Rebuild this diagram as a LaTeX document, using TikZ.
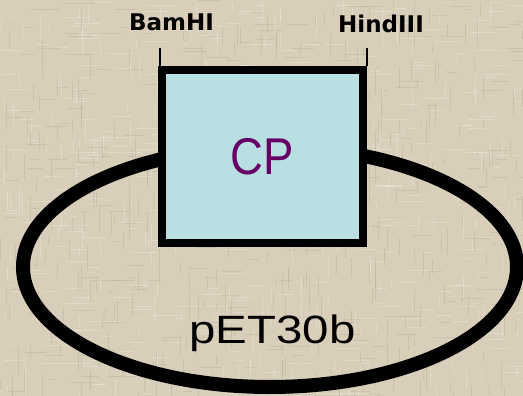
\documentclass[tikz,border=0pt]{standalone}
\usepackage{fontspec}
\setmainfont{Liberation Sans}
\newfontfamily\djv{DejaVu Sans}
\usetikzlibrary{shapes.geometric}
\definecolor{bg}{RGB}{216,206,186}
\definecolor{bglight}{RGB}{236,229,213}
\definecolor{bgdark}{RGB}{192,181,160}
\definecolor{cpfill}{RGB}{184,223,226}
\definecolor{cptext}{RGB}{102,0,102}
\tikzset{
  plasmidring/.style={ellipse, draw=black, line width=14pt, minimum width=494pt, minimum height=240pt, inner sep=0pt},
  insertbox/.style={draw=black, line width=8pt, fill=cpfill, minimum width=201.5pt, minimum height=173pt, inner sep=0pt},
  sitelabel/.style={anchor=base, inner sep=0pt, font=\djv\bfseries\fontsize{23}{24}\selectfont},
  siteline/.style={line width=1.2pt, black},
  weave/.style={line width=1pt, opacity=0.55}
}
\begin{document}
\begin{tikzpicture}[x=1pt,y=-1pt]
\fill[bg] (0,0) rectangle (523,396);
\useasboundingbox (0,0) rectangle (523,396);
\begin{scope}
\clip (0,0) rectangle (523,396);
\pgfmathsetseed{7}
\foreach \i in {1,...,350}{
  \pgfmathsetmacro{\xx}{rnd*523}
  \pgfmathsetmacro{\yy}{round(rnd*132)*3}
  \pgfmathsetmacro{\ll}{6+rnd*22}
  \draw[weave, bglight] (\xx,\yy) -- ++(\ll,0);
}
\foreach \i in {1,...,350}{
  \pgfmathsetmacro{\xx}{round(rnd*174)*3}
  \pgfmathsetmacro{\yy}{rnd*396}
  \pgfmathsetmacro{\ll}{6+rnd*22}
  \draw[weave, bgdark] (\xx,\yy) -- ++(0,\ll);
}
\foreach \i in {1,...,250}{
  \pgfmathsetmacro{\xx}{rnd*523}
  \pgfmathsetmacro{\yy}{round(rnd*132)*3+1}
  \pgfmathsetmacro{\ll}{6+rnd*18}
  \draw[weave, bgdark] (\xx,\yy) -- ++(\ll,0);
}
\foreach \i in {1,...,250}{
  \pgfmathsetmacro{\xx}{round(rnd*174)*3+1}
  \pgfmathsetmacro{\yy}{rnd*396}
  \pgfmathsetmacro{\ll}{6+rnd*18}
  \draw[weave, bglight] (\xx,\yy) -- ++(0,\ll);
}
\end{scope}
\node[plasmidring] (plasmid) at (270,267) {};
\node[insertbox] (cp) at (262.25,156.5) {\scalebox{0.88}[1]{\fontsize{51.7}{52}\selectfont\color{cptext}CP}};
\node[anchor=base, inner sep=0pt] (vec) at (272.5,343.3) {\scalebox{1.2}[1]{\fontsize{39.5}{40}\selectfont pET30b}};
\node[sitelabel] (bam) at (171.5,31) {BamHI};
\node[sitelabel] (hind) at (381,32.3) {HindIII};
\coordinate (bamend) at (160,48);
\coordinate (hindend) at (367,48);
\draw[siteline] (bamend) -- (bamend |- cp.north);
\draw[siteline] (hindend) -- (hindend |- cp.north);
\end{tikzpicture}
\end{document}
